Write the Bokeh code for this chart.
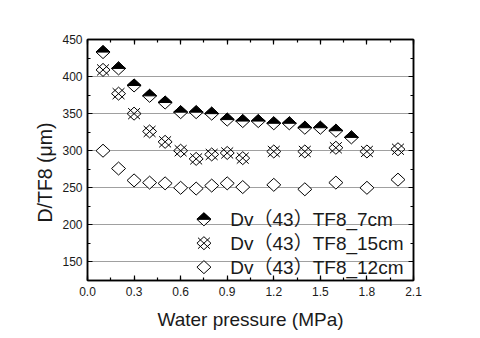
import numpy as np
from bokeh.plotting import figure
from bokeh.models import (Range1d, LinearAxis, SingleIntervalTicker,
                          NumeralTickFormatter, Label, Title)
from bokeh.embed import file_html
from bokeh.resources import INLINE

# ---------------- data ----------------
x_7cm = [0.1, 0.2, 0.3, 0.4, 0.5, 0.6, 0.7, 0.8, 0.9, 1.0, 1.1, 1.2, 1.3, 1.4, 1.5, 1.6, 1.7]
y_7cm = [433, 411, 388, 374, 365, 352, 352, 350, 342, 340, 340, 337, 337, 331, 331, 327, 318]

x_15cm = [0.1, 0.2, 0.3, 0.4, 0.5, 0.6, 0.7, 0.8, 0.9, 1.0, 1.2, 1.4, 1.6, 1.8, 2.0]
y_15cm = [409, 377, 350, 326, 312, 300, 289, 295, 297, 290, 299, 299, 304, 299, 302]

x_12cm = [0.1, 0.2, 0.3, 0.4, 0.5, 0.6, 0.7, 0.8, 0.9, 1.0, 1.2, 1.4, 1.6, 1.8, 2.0]
y_12cm = [300, 276, 260, 257, 256, 250, 249, 253, 256, 251, 254, 248, 257, 250, 261]

legend_labels = ["Dv（43）TF8_7cm", "Dv（43）TF8_15cm", "Dv（43）TF8_12cm"]
x_label = "Water pressure (MPa)"
y_label = "D/TF8 (μm)"

# ---------------- layout / style ----------------
X0, X1 = 0.0, 2.1
Y0, Y1 = 125, 450
FW, FH = 326, 241
FONT = "Liberation Sans"
LEG_FONT = "Liberation Sans, Noto Sans CJK SC"
GRID = "#a0a0a0"

# marker half sizes in pixels -> data units
HW_PX, HH_PX = 7.0, 6.5
DX = HW_PX * (X1 - X0) / FW
DY = HH_PX * (Y1 - Y0) / FH


def diamond(xs, ys):
    return ([[x - DX, x, x + DX, x] for x in xs],
            [[y, y + DY, y, y - DY] for y in ys])


def top_half(xs, ys):
    return ([[x - DX, x, x + DX] for x in xs],
            [[y, y + DY, y] for y in ys])


def cross(xs, ys, f=0.85):
    ax = DX * f
    ay = DY * f
    return ([[x - ax, x + ax] for x in xs] + [[x - ax, x + ax] for x in xs],
            [[y - ay, y + ay] for y in ys] + [[y + ay, y - ay] for y in ys])


p = figure(frame_width=FW, frame_height=FH,
           x_range=Range1d(X0, X1), y_range=Range1d(Y0, Y1),
           output_backend="svg", toolbar_location=None,
           x_axis_location=None, y_axis_location=None,
           min_border_left=87, min_border_top=39,
           min_border_right=50, min_border_bottom=50,
           background_fill_color="white", border_fill_color="white")

p.outline_line_color = "black"
p.outline_line_width = 1.5

bottom = LinearAxis(ticker=SingleIntervalTicker(interval=0.3, num_minor_ticks=2),
                    formatter=NumeralTickFormatter(format="0.0"))
left = LinearAxis(ticker=SingleIntervalTicker(interval=50, num_minor_ticks=2))
top = LinearAxis(ticker=SingleIntervalTicker(interval=0.3, num_minor_ticks=2))
right = LinearAxis(ticker=SingleIntervalTicker(interval=50, num_minor_ticks=2))
p.add_layout(bottom, "below")
p.add_layout(left, "left")
p.add_layout(top, "above")
p.add_layout(right, "right")

for ax in [bottom, left, top, right]:
    ax.axis_line_color = "black"
    ax.axis_line_width = 1.5
    ax.major_tick_in = 5
    ax.major_tick_out = 0
    ax.minor_tick_in = 3
    ax.minor_tick_out = 0
    ax.major_tick_line_color = "black"
    ax.minor_tick_line_color = "black"
    ax.major_tick_line_width = 1.2
    ax.minor_tick_line_width = 1.2
    ax.major_label_text_font = FONT
    ax.major_label_text_font_size = "12px"
    ax.major_label_text_color = "#1a1a1a"

for ax in [top, right]:
    ax.major_label_text_color = None
    ax.major_label_standoff = 0

bottom.major_label_standoff = 6
left.major_label_standoff = 5

bottom.axis_label = x_label
bottom.axis_label_text_font = FONT
bottom.axis_label_text_font_size = "19px"
bottom.axis_label_text_font_style = "normal"
bottom.axis_label_text_color = "#1a1a1a"
bottom.axis_label_standoff = 10

# y axis title, starting ~58px above the frame bottom as in the reference
p.add_layout(Title(text=y_label, align="left", offset=58, standoff=8,
                   text_font=FONT, text_font_size="19.5px",
                   text_font_style="normal", text_color="#1a1a1a"), "left")

p.xgrid.visible = False
p.ygrid.ticker = left.ticker
p.ygrid.grid_line_color = GRID
p.ygrid.grid_line_width = 1.2

# ---------------- series ----------------
# 12cm : open diamonds
xs, ys = diamond(x_12cm, y_12cm)
p.patches(xs=xs, ys=ys, fill_color="white", line_color="black", line_width=1)

# 15cm : diamond with an x
xs, ys = diamond(x_15cm, y_15cm)
p.patches(xs=xs, ys=ys, fill_color=None, line_color="black", line_width=1)
xs, ys = cross(x_15cm, y_15cm)
p.multi_line(xs=xs, ys=ys, line_color="black", line_width=1)

# 7cm : diamond with top half black
xs, ys = diamond(x_7cm, y_7cm)
p.patches(xs=xs, ys=ys, fill_color="white", line_color="black", line_width=1)
xs, ys = top_half(x_7cm, y_7cm)
p.patches(xs=xs, ys=ys, fill_color="black", line_color="black", line_width=1)

# ---------------- legend (drawn by hand, no frame) ----------------
LEG_MX = 0.75
LEG_TX = 0.92
LEG_Y = [207.5, 175.3, 143.0]

xs, ys = diamond([LEG_MX], [LEG_Y[0]])
p.patches(xs=xs, ys=ys, fill_color="white", line_color="black", line_width=1)
xs, ys = top_half([LEG_MX], [LEG_Y[0]])
p.patches(xs=xs, ys=ys, fill_color="black", line_color="black", line_width=1)

xs, ys = diamond([LEG_MX], [LEG_Y[1]])
p.patches(xs=xs, ys=ys, fill_color="white", line_color="black", line_width=1)
xs, ys = cross([LEG_MX], [LEG_Y[1]])
p.multi_line(xs=xs, ys=ys, line_color="black", line_width=1)

xs, ys = diamond([LEG_MX], [LEG_Y[2]])
p.patches(xs=xs, ys=ys, fill_color="white", line_color="black", line_width=1)

for lab, ly in zip(legend_labels, LEG_Y):
    p.add_layout(Label(x=LEG_TX, y=ly, text=lab, text_font=LEG_FONT,
                       text_font_size="19px", text_baseline="middle",
                       text_color="#1a1a1a", background_fill_color=None))

open("out.html", "w").write(file_html(p, INLINE))
